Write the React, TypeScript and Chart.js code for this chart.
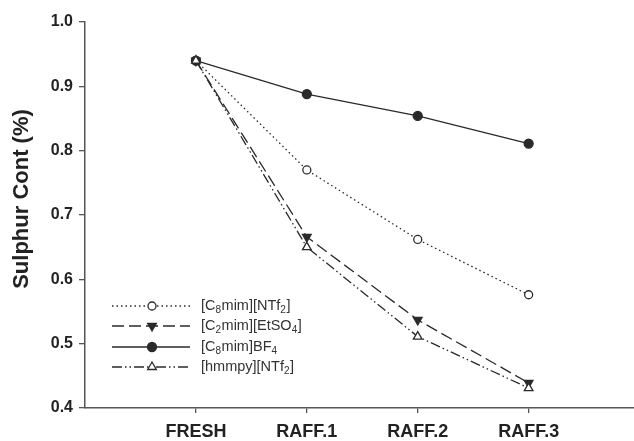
import React, { useEffect, useRef } from "react";
import { Chart, registerables } from "chart.js";

Chart.register(...registerables);

const categories = ["FRESH", "RAFF.1", "RAFF.2", "RAFF.3"];
const yTicks = [0.4, 0.5, 0.6, 0.7, 0.8, 0.9, 1.0];
const yTitle = "Sulphur Cont (%)";

const seriesNames = ["[C_8mim][NTf_2]", "[C_2mim][EtSO_4]", "[C_8mim]BF_4", "[hmmpy][NTf_2]"];
const c8mimNTf2 = [0.94, 0.77, 0.662, 0.576];
const c2mimEtSO4 = [0.94, 0.666, 0.537, 0.439];
const c8mimBF4 = [0.94, 0.888, 0.854, 0.811];
const hmmpyNTf2 = [0.94, 0.65, 0.511, 0.431];

const LINE = "#2a2a2a";
const FONT = "'Liberation Sans', Arial, sans-serif";

type Style = {
  dash: number[];
  pointStyle: string;
  rotation: number;
  fill: string;
  radius: number;
  order: number;
};

const styles: Style[] = [
  { dash: [1.5, 3], pointStyle: "circle", rotation: 0, fill: "#ffffff", radius: 4, order: 3 },
  { dash: [12, 5], pointStyle: "triangle", rotation: 180, fill: LINE, radius: 5, order: 1 },
  { dash: [], pointStyle: "circle", rotation: 0, fill: LINE, radius: 4.5, order: 2 },
  { dash: [10, 3, 1.5, 3, 1.5, 3], pointStyle: "triangle", rotation: 0, fill: "#ffffff", radius: 5, order: 0 },
];

const seriesValues = [c8mimNTf2, c2mimEtSO4, c8mimBF4, hmmpyNTf2];

function drawRich(ctx: CanvasRenderingContext2D, text: string, x: number, y: number) {
  let cx = x;
  let i = 0;
  while (i < text.length) {
    if (text[i] === "_" && i + 1 < text.length) {
      ctx.font = `10px ${FONT}`;
      ctx.fillText(text[i + 1], cx, y + 4);
      cx += ctx.measureText(text[i + 1]).width + 0.5;
      i += 2;
    } else {
      let j = i;
      while (j < text.length && text[j] !== "_") j++;
      const part = text.slice(i, j);
      ctx.font = `14.5px ${FONT}`;
      ctx.fillText(part, cx, y);
      cx += ctx.measureText(part).width;
      i = j;
    }
  }
}

function drawMarker(ctx: CanvasRenderingContext2D, s: Style, x: number, y: number) {
  ctx.beginPath();
  const r = s.radius;
  if (s.pointStyle === "circle") {
    ctx.arc(x, y, r, 0, Math.PI * 2);
  } else {
    const dir = s.rotation === 180 ? -1 : 1;
    ctx.moveTo(x, y - dir * r);
    ctx.lineTo(x - r * Math.cos(Math.PI / 6), y + dir * r * 0.5);
    ctx.lineTo(x + r * Math.cos(Math.PI / 6), y + dir * r * 0.5);
    ctx.closePath();
  }
  ctx.fillStyle = s.fill;
  ctx.fill();
  ctx.lineWidth = 1.3;
  ctx.strokeStyle = LINE;
  ctx.stroke();
}

const legendPlugin = {
  id: "customLegend",
  afterDraw(chart: any) {
    const ctx = chart.ctx as CanvasRenderingContext2D;
    const rowY = [306, 326, 347, 367];
    const x0 = 112;
    const x1 = 190;
    const xm = 152;
    ctx.save();
    seriesNames.forEach((name, k) => {
      const s = styles[k];
      const y = rowY[k];
      ctx.strokeStyle = LINE;
      ctx.lineWidth = 1.3;
      ctx.setLineDash(s.dash);
      ctx.beginPath();
      ctx.moveTo(x0, y);
      ctx.lineTo(x1, y);
      ctx.stroke();
      ctx.setLineDash([]);
      drawMarker(ctx, s, xm, y);
      ctx.fillStyle = "#333333";
      ctx.textBaseline = "middle";
      ctx.textAlign = "left";
      drawRich(ctx, name, 201, y);
    });
    // y axis title
    ctx.translate(22, 199);
    ctx.rotate(-Math.PI / 2);
    ctx.font = `bold 22px ${FONT}`;
    ctx.fillStyle = "#222";
    ctx.textAlign = "center";
    ctx.textBaseline = "middle";
    ctx.fillText(yTitle, 0, 0);
    ctx.restore();
  },
};

export default function App() {
  const ref = useRef<HTMLCanvasElement>(null);
  useEffect(() => {
    if (!ref.current) return;
    const datasets = seriesNames.map((name, k) => ({
      label: name,
      data: seriesValues[k].map((v, i) => ({ x: i, y: v })),
      borderColor: LINE,
      borderWidth: 1.3,
      borderDash: styles[k].dash,
      backgroundColor: styles[k].fill,
      pointStyle: styles[k].pointStyle as any,
      rotation: styles[k].rotation,
      pointRadius: styles[k].radius,
      pointBorderWidth: 1.3,
      pointBorderColor: LINE,
      pointBackgroundColor: styles[k].fill,
      order: styles[k].order,
      fill: false,
      tension: 0,
    }));
    const chart = new Chart(ref.current, {
      type: "line",
      data: { datasets },
      plugins: [legendPlugin],
      options: {
        animation: false,
        responsive: false,
        devicePixelRatio: 1,
        layout: { autoPadding: false, padding: { top: 22, right: 0, left: 0, bottom: 0 } },
        plugins: { legend: { display: false }, tooltip: { enabled: false } },
        scales: {
          x: {
            type: "linear",
            min: -1,
            max: 3.95,
            afterBuildTicks: (scale: any) => {
              scale.ticks = categories.map((_, i) => ({ value: i }));
            },
            afterFit: (scale: any) => {
              scale.height = 33;
              scale.paddingRight = 0;
              scale.paddingLeft = 0;
            },
            ticks: {
              callback: (v: any) => categories[Number(v)] ?? "",
              color: "#222",
              font: { family: FONT, size: 18, weight: "bold" },
              padding: 8,
              maxRotation: 0,
            },
            grid: { drawOnChartArea: false, drawTicks: true, tickLength: 5, color: "#555", lineWidth: 1.3 },
            border: { display: true, color: "#555", width: 1.5 },
          },
          y: {
            type: "linear",
            min: 0.4,
            max: 1.0,
            afterBuildTicks: (scale: any) => {
              scale.ticks = yTicks.map((v) => ({ value: v }));
            },
            afterFit: (scale: any) => {
              scale.width = 85;
            },
            ticks: {
              callback: (v: any) => Number(v).toFixed(1),
              color: "#222",
              font: { family: FONT, size: 16, weight: "bold" },
              padding: 6,
            },
            grid: { drawOnChartArea: false, drawTicks: true, tickLength: 6, color: "#555", lineWidth: 1.3 },
            border: { display: true, color: "#555", width: 1.5 },
          },
        },
      },
    });
    return () => chart.destroy();
  }, []);
  return (
    <div style={{ position: "fixed", left: 0, top: 0, width: 634, height: 441, background: "#fff" }}>
      <canvas ref={ref} width={634} height={441} style={{ width: 634, height: 441 }} />
    </div>
  );
}
